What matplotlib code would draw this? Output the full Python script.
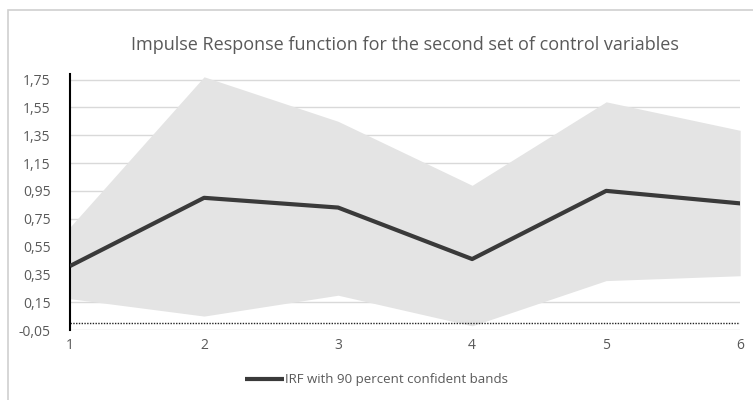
import matplotlib
matplotlib.use("Agg")
import matplotlib.pyplot as plt
from matplotlib.patches import Rectangle

periods = [1, 2, 3, 4, 5, 6]
irf = [0.41, 0.90, 0.83, 0.46, 0.95, 0.86]
upper = [0.69, 1.77, 1.45, 0.99, 1.59, 1.385]
lower = [0.175, 0.05, 0.20, -0.02, 0.305, 0.34]
yticks = [-0.05, 0.15, 0.35, 0.55, 0.75, 0.95, 1.15, 1.35, 1.55, 1.75]

plt.rcParams['font.family'] = ['Open Sans', 'DejaVu Sans']
grey = '#595959'

fig = plt.figure(figsize=(7.53, 4.0), dpi=100)
ax = fig.add_axes([0.093, 0.175, 0.890, 0.64])

ax.fill_between(periods, lower, upper, color='#e4e4e4', lw=0, zorder=1)
ax.plot(periods, irf, color='#3a3a3a', lw=3, solid_capstyle='butt', zorder=3,
        label='IRF with 90 percent confident bands')
ax.axhline(0, color='#222222', lw=1, ls=(0, (1, 1)), zorder=2)

ax.set_xlim(1, 6)
ax.set_ylim(-0.05, 1.79)
ax.set_xticks(periods)
ax.set_yticks(yticks)
ax.set_yticklabels([f"{v:.2f}".replace('.', ',') for v in yticks])
ax.grid(axis='y', color='#d9d9d9', lw=1, zorder=0)
ax.set_axisbelow(True)
for s in ['top', 'right', 'bottom']:
    ax.spines[s].set_visible(False)
ax.spines['left'].set_color('black')
ax.spines['left'].set_linewidth(1.5)
ax.tick_params(axis='both', length=0, labelsize=10, colors=grey, pad=6)
ax.tick_params(axis='y', pad=14)

ax.set_title('Impulse Response function for the second set of control variables',
             fontsize=13, color=grey, pad=17)

fig.legend(loc='center', bbox_to_anchor=(0.5, 0.05), frameon=False, fontsize=9.5,
           labelcolor=grey, handlelength=3.0, handletextpad=0.1)

fig.patches.append(Rectangle((8 / 753, -0.05), 1.2, 0.05 + 1 - 10 / 400,
                             transform=fig.transFigure, fill=False,
                             edgecolor='#d0d0d0', lw=1.2))

fig.savefig('out.png', dpi=100)
